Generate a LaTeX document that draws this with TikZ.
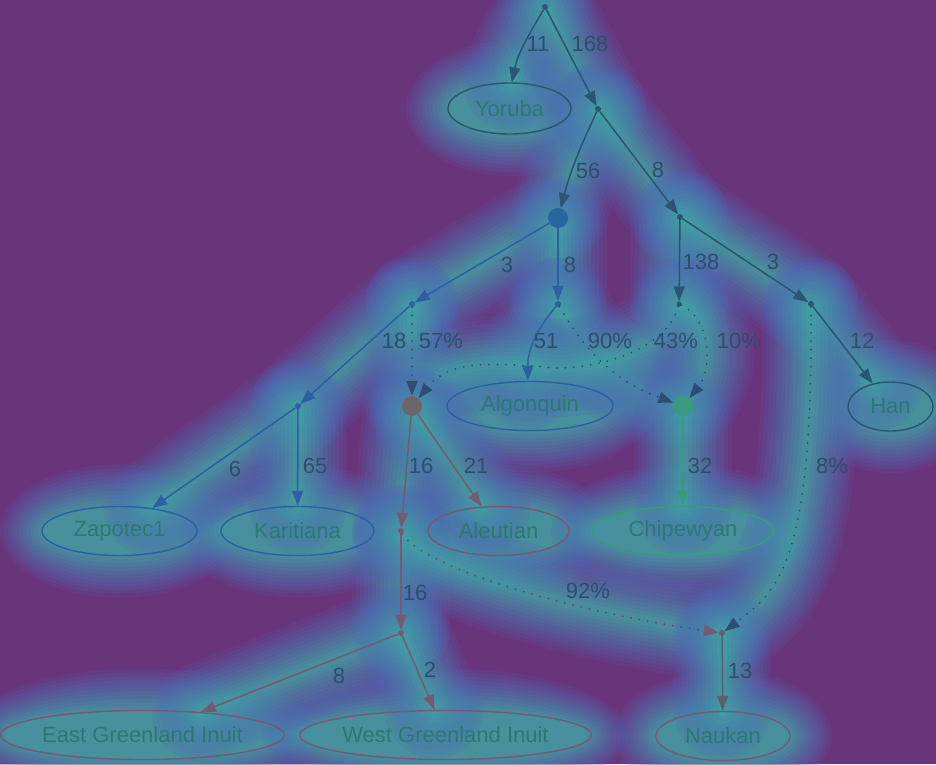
\documentclass[tikz,border=0pt]{standalone}
\usepackage{fontspec}
\setmainfont{Liberation Sans}
\usetikzlibrary{arrows.meta,shapes.geometric}
\pgfdeclarelayer{bgl}
\pgfdeclarelayer{glowl}
\pgfsetlayers{bgl,glowl,main}
\definecolor{bgc}{HTML}{69357A}
\definecolor{glowa}{HTML}{5064B8}
\definecolor{glowb}{HTML}{3FC09C}
\definecolor{topc}{HTML}{2B5572}
\definecolor{bluc}{HTML}{2D60A2}
\definecolor{mauc}{HTML}{765A74}
\definecolor{grnc}{HTML}{3A9A80}
\definecolor{gryc}{HTML}{6C6668}
\definecolor{txtc}{HTML}{2A7A72}
\definecolor{lblc}{HTML}{2C4F6C}
\definecolor{dotc}{HTML}{2D4E72}
\definecolor{pdotc}{HTML}{7A3A7A}
\definecolor{nauc}{HTML}{5A6272}
\tikzset{
  dotn/.style={circle,inner sep=0pt,minimum size=6pt,fill=#1},
  bign/.style={circle,inner sep=0pt,minimum size=20pt,fill=#1},
  leaf/.style={ellipse,draw=#1,line width=1.4pt,inner sep=0pt,text=txtc,minimum height=49pt},
  lbl/.style={text=lblc,inner sep=0pt},
  ed/.style={draw=#1,line width=1.5pt,-{Triangle[length=15pt,width=11pt]}},
  dted/.style={draw=#1,line width=2pt,dash pattern=on 0pt off 8.5pt,line cap=round,-{Triangle[length=15pt,width=11pt]}}
}
\newcommand\glowpath[1]{%
  \begin{pgfonlayer}{glowl}
    \foreach \i in {0,...,11}{%
      \pgfmathsetmacro\gw{98-8*\i}%
      \pgfmathtruncatemacro\gm{\i*9}%
      \draw[glowb!\gm!glowa,opacity=.14,line width=\gw pt,line cap=round,line join=round] #1;}
  \end{pgfonlayer}}
\newcommand\glowell[3]{%
  \begin{pgfonlayer}{glowl}
    \foreach \i in {0,...,11}{%
      \pgfmathsetmacro\gd{42-3.8*\i}%
      \pgfmathtruncatemacro\gm{\i*9}%
      \fill[glowb!\gm!glowa,opacity=.15] (#1.center) ellipse [x radius=#2pt+\gd pt, y radius=#3pt+\gd pt];}
  \end{pgfonlayer}}
\newcommand\edge[2]{\glowpath{#2}\draw[#1] #2;}
\begin{document}
\begin{tikzpicture}[x=1pt,y=-1pt,font=\fontsize{22}{26}\selectfont]
\begin{pgfonlayer}{bgl}
  \fill[bgc] (0,0) rectangle (936,764);
\end{pgfonlayer}
\useasboundingbox (0,0) rectangle (936,764);
% inner nodes
\node[dotn=topc] (root) at (545,7) {};
\node[dotn=topc] (n1) at (598,109) {};
\node[bign=bluc!85!teal] (n2) at (558,218) {};
\node[dotn=topc] (n3) at (680,217) {};
\node[dotn=bluc] (n4) at (412,304) {};
\node[dotn=bluc] (n5) at (558,304) {};
\node[dotn=topc,minimum size=5pt] (n6) at (679,304) {};
\node[dotn=topc] (n7) at (811,304) {};
\node[dotn=bluc] (n8) at (298,406) {};
\node[bign=gryc] (adm) at (412,406) {};
\node[bign=grnc] (grn) at (683,406) {};
\node[dotn=mauc] (n9) at (401,531) {};
\node[dotn=mauc] (n10) at (401,633) {};
\node[dotn=nauc] (n11) at (722,633) {};
% leaves
\node[leaf=topc,minimum width=123pt,minimum height=51pt] (yor) at (509.5,108.5) {Yoruba};
\node[leaf=topc,minimum width=85pt] (han) at (890.5,406.5) {Han};
\node[leaf=bluc,minimum width=166pt] (alg) at (530,406) {Algonquin};
\node[leaf=bluc,minimum width=155pt] (zap) at (119.5,531) {Zapotec1};
\node[leaf=bluc,minimum width=153pt] (kar) at (297.5,531) {Karitiana};
\node[leaf=mauc,minimum width=141pt] (ale) at (498.5,531) {Aleutian};
\node[leaf=grnc,minimum width=180pt] (chi) at (683,531) {Chipewyan};
\node[leaf=mauc,minimum width=275pt] (egi) at (142.5,735) {East Greenland Inuit};
\node[leaf=mauc,minimum width=283pt] (wgi) at (445.5,735) {West Greenland Inuit};
\node[leaf=mauc,minimum width=134pt] (nau) at (723,736) {Naukan};
\glowell{yor}{61.5}{25.5}
\glowell{han}{42.5}{24.5}
\glowell{alg}{83}{24.5}
\glowell{zap}{77.5}{24.5}
\glowell{kar}{76.5}{24.5}
\glowell{ale}{70.5}{24.5}
\glowell{chi}{90}{24.5}
\glowell{egi}{137.5}{24.5}
\glowell{wgi}{141.5}{24.5}
\glowell{nau}{67}{24.5}
% edges
\edge{ed=topc}{(root) to[out=-120,in=78] (yor.85)}
\edge{ed=topc}{(root) -- (n1)}
\edge{ed=topc}{(n1) to[out=-115,in=75] (n2)}
\edge{ed=topc}{(n1) -- (n3)}
\edge{ed=bluc}{(n2) -- (n4)}
\edge{ed=bluc}{(n2) -- (n5)}
\edge{ed=topc}{(n3) -- (n6)}
\edge{ed=topc}{(n3) -- (n7)}
\edge{ed=topc}{(n7) -- (han)}
\edge{ed=bluc}{(n4) -- (n8)}
\edge{dted=dotc}{(n4) -- (adm)}
\edge{ed=bluc}{(n5) to[out=-130,in=90] (alg.95)}
\edge{dted=dotc}{(n5) to[out=-60,in=160] (grn)}
\edge{dted=dotc}{(n6) .. controls (668,345) and (610,368) .. (555,368) .. controls (490,362) and (450,360) .. (adm)}
\edge{dted=dotc}{(n6) .. controls (712,320) and (712,370) .. (grn)}
\edge{ed=bluc}{(n8) -- (zap)}
\edge{ed=bluc}{(n8) -- (kar)}
\edge{ed=mauc}{(adm) -- (n9)}
\edge{ed=mauc}{(adm) -- (ale)}
\edge{ed=grnc}{(grn) -- (chi)}
\edge{ed=mauc}{(n9) -- (n10)}
\edge{dted=pdotc,-{Triangle[length=15pt,width=11pt,color=mauc]}}{(n9) .. controls (420,565) and (560,610) .. (n11)}
\edge{dted=dotc}{(n7) .. controls (813,560) and (780,590) .. (n11)}
\edge{ed=mauc}{(n10) -- (egi)}
\edge{ed=mauc}{(n10) -- (wgi)}
\edge{ed=nauc}{(n11) -- (nau)}
% labels
\node[lbl] (l1) at (538,44) {11};
\node[lbl] (l2) at (590,44) {168};
\node[lbl] (l3) at (588,171) {56};
\node[lbl] (l4) at (658,170) {8};
\node[lbl] (l5) at (507,265) {3};
\node[lbl] (l6) at (570,265) {8};
\node[lbl] (l7) at (701,262) {138};
\node[lbl] (l8) at (773,262) {3};
\node[lbl] (l9) at (862,341) {12};
\node[lbl] (l10) at (394,341) {18};
\node[lbl] (l11) at (441,341) {57\%};
\node[lbl] (l12) at (546,341) {51};
\node[lbl] (l13) at (610,341) {90\%};
\node[lbl] (l14) at (676,341) {43\%};
\node[lbl] (l15) at (739,341) {10\%};
\node[lbl] (l16) at (235,469) {6};
\node[lbl] (l17) at (315,466) {65};
\node[lbl] (l18) at (421,466) {16};
\node[lbl] (l19) at (476,466) {21};
\node[lbl] (l20) at (700,466) {32};
\node[lbl] (l21) at (832,466) {8\%};
\node[lbl] (l22) at (415,593) {16};
\node[lbl] (l23) at (588,591) {92\%};
\node[lbl] (l24) at (339,676) {8};
\node[lbl] (l25) at (430,670) {2};
\node[lbl] (l26) at (740,671) {13};
\end{tikzpicture}
\end{document}
